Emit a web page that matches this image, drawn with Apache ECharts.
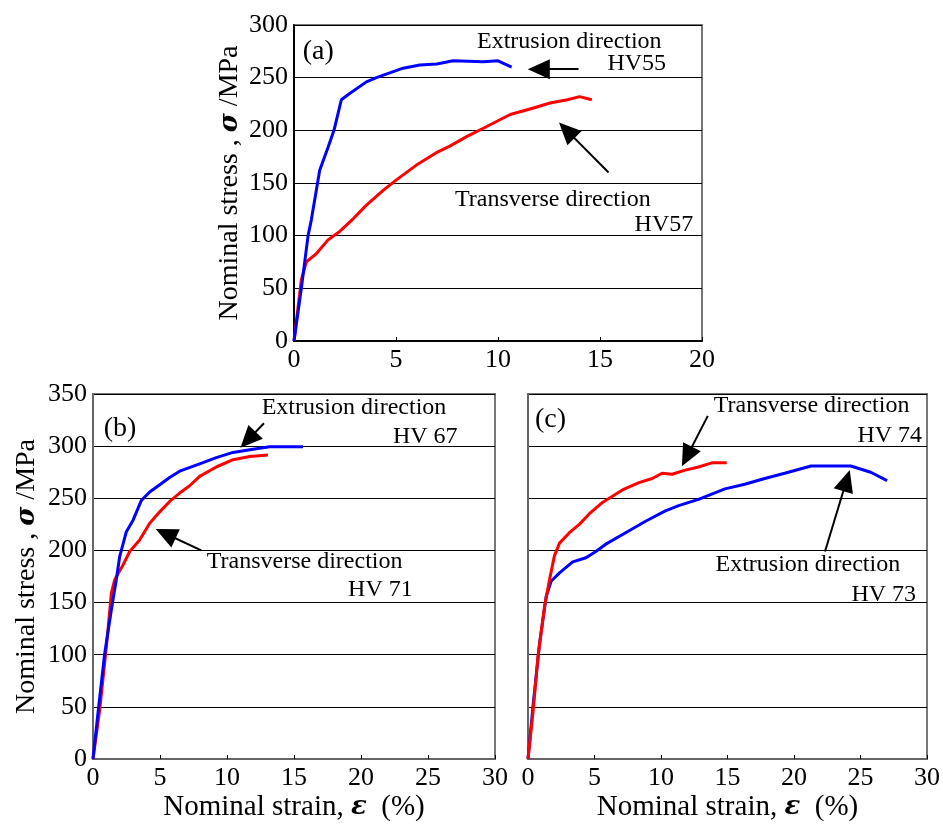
<!DOCTYPE html>
<html>
<head>
<meta charset="utf-8">
<script src="https://cdn.jsdelivr.net/npm/echarts@6/dist/echarts.min.js"></script>
<style>
html,body{margin:0;padding:0;background:#fff;}
#chart{width:943px;height:825px;}
</style>
</head>
<body>
<div id="chart"></div>
<script>
// ---------- DATA ----------
// Panel (a)
const aExtStrain = [0, 0.36, 0.69, 0.85, 1.26, 1.67, 1.96, 2.32, 2.73, 3.55, 4.04, 5.35, 6.17, 7.0, 7.8, 9.28, 10.0, 10.67];
const aExtStress = [0, 50, 100, 115, 162, 184, 200, 229, 235, 246, 250, 259, 262, 263, 266, 265, 266, 260];
const aTrStrain = [0, 0.36, 0.6, 1.1, 1.67, 2.24, 2.9, 3.55, 4.37, 5.02, 6.0, 7.0, 7.64, 8.46, 9.28, 10.6, 11.7, 12.55, 13.4, 14.0, 14.6];
const aTrStress = [0, 58, 75, 83, 96, 104, 116, 129, 143, 153, 167, 179, 185, 194, 202, 215, 221, 226, 229, 232, 229];
// Panel (b)
const bExtStrain = [0, 0.37, 0.87, 1.37, 1.74, 1.99, 2.49, 2.99, 3.61, 4.23, 4.98, 5.72, 6.47, 7.96, 9.2, 10.45, 11.94, 13.18, 15.67];
const bExtStress = [0, 44, 101, 143, 172, 194, 218, 229, 248, 256, 263, 270, 276, 283, 289, 294, 297, 299.5, 299.5];
const bTrStrain = [0, 0.5, 1.0, 1.37, 1.62, 2.24, 2.74, 3.48, 4.23, 4.98, 5.72, 6.47, 7.21, 7.96, 9.2, 10.45, 11.7, 13.06];
const bTrStress = [0, 47, 108, 159, 172, 186, 199, 210, 226, 237, 247, 255, 262, 271, 280, 287, 290, 291.5];
// Panel (c)
const cTrStrain = [0, 0.37, 0.75, 1.24, 1.62, 1.99, 2.37, 3.11, 3.86, 4.6, 5.6, 6.35, 7.1, 8.34, 9.34, 10.08, 10.83, 11.82, 12.82, 13.82, 14.94];
const cTrStress = [0, 44, 98, 146, 172, 195, 207, 217, 225, 235, 246, 252, 258, 265, 269, 274, 273, 277, 280, 284, 284];
const cExtStrain = [0, 0.37, 0.87, 1.37, 1.74, 2.37, 3.36, 4.36, 5.1, 5.85, 7.34, 8.84, 10.33, 11.33, 12.82, 14.81, 16.3, 17.8, 19.3, 21.28, 24.27, 25.77, 27.0];
const cExtStress = [0, 50, 111, 156, 170.5, 178.5, 189, 193, 199, 206, 217, 228, 238, 243, 249, 259, 263.5, 269, 274, 281, 281, 275, 267];

// Axis ranges / ticks
const aXTicks = [0, 5, 10, 15, 20];
const aYTicks = [0, 50, 100, 150, 200, 250, 300];
const bcXTicks = [0, 5, 10, 15, 20, 25, 30];
const bcYTicks = [0, 50, 100, 150, 200, 250, 300, 350];

// Annotation texts (data units) : [text, x, y, side]
const aNotes = [["(a)", 0.43, 275, "r"], ["Extrusion direction", 8.97, 284, "r"], ["HV55", 18.24, 263, "l"], ["Transverse direction", 7.89, 134, "r"], ["HV57", 19.57, 110, "l"]];
const bNotes = [["(b)", 0.8, 317, "r"], ["Extrusion direction", 12.59, 336.5, "r"], ["HV 67", 27.21, 309, "l"], ["Transverse direction", 8.49, 189, "r"], ["HV 71", 23.86, 162, "l"]];
const cNotes = [["(c)", 0.52, 325, "r"], ["Transverse direction", 13.96, 338.5, "r"], ["HV 74", 29.63, 309.6, "l"], ["Extrusion direction", 14.1, 186.5, "r"], ["HV 73", 29.18, 157.7, "l"]];
// Arrows (data units): [tailX, tailY, headX, headY]
const aArrows = [[13.95, 258, 12.0, 258], [15.42, 160, 13.37, 200]];
const bArrows = [[12.76, 322, 11.57, 306], [8.08, 200, 5.42, 216]];
const cArrows = [[13.52, 329, 11.95, 290], [22.33, 199, 23.95, 267]];

// ---------- BUILD ----------
const FONT = "'Liberation Serif', 'Times New Roman', serif";
const zip = (xs, ys) => xs.map((x, i) => [x, ys[i]]);

function notePoints(notes) {
  return notes.map(n => ({
    coord: [n[1], n[2]],
    symbol: 'circle', symbolSize: 0,
    label: {
      show: true, formatter: n[0], position: n[3] === 'r' ? 'right' : 'left', distance: 0,
      color: '#000', fontFamily: FONT, fontSize: n[0].length === 3 ? 28 : 24
    }
  }));
}
function arrowLines(arrs) {
  return arrs.map(a => [
    { coord: [a[0], a[1]], symbol: 'none' },
    { coord: [a[2], a[3]], symbol: 'triangle', symbolSize: [20, 22] }
  ]);
}

const axisLabelStyle = { color: '#000', fontFamily: FONT, fontSize: 26 };
const nameRich = {
  g: { fontFamily: "'DejaVu Serif', serif", fontStyle: 'italic', fontWeight: 'bold', fontSize: 26, color: '#000' }
};

function xAxis(gi, max, ticks, showName) {
  return {
    type: 'value', gridIndex: gi, min: 0, max: max, interval: 5,
    axisLine: { show: true, lineStyle: { color: gi === 0 ? '#000' : '#666', width: 2 } },
    axisTick: { show: true, inside: true, length: 4, lineStyle: { color: '#000' } },
    axisLabel: Object.assign({ margin: 6 }, axisLabelStyle),
    splitLine: { show: false },
    name: showName ? 'Nominal strain, {g|ε}  (%)' : '',
    nameLocation: 'middle', nameGap: 34,
    nameTextStyle: { color: '#000', fontFamily: FONT, fontSize: 29, rich: nameRich }
  };
}
function yAxis(gi, max, showLabels, showName, gap) {
  return {
    type: 'value', gridIndex: gi, min: 0, max: max, interval: 50,
    axisLine: { show: true, lineStyle: { color: gi === 0 ? '#000' : '#666', width: 2 } },
    axisTick: { show: false },
    axisLabel: Object.assign({ show: showLabels, margin: 6 }, axisLabelStyle),
    splitLine: { show: true, lineStyle: { color: '#000', width: 1 } },
    name: showName ? 'Nominal stress , {g|σ} /MPa' : '',
    nameLocation: 'middle', nameGap: gap, nameRotate: 90,
    nameTextStyle: { color: '#000', fontFamily: FONT, fontSize: 28, rich: nameRich }
  };
}

function lineSeries(gi, data, color, notes, arrows) {
  const s = {
    type: 'line', xAxisIndex: gi, yAxisIndex: gi, data: data, showSymbol: false, symbol: 'none',
    lineStyle: { color: color, width: 3 }, itemStyle: { color: color }, z: 3
  };
  if (notes) s.markPoint = { silent: true, data: notePoints(notes), itemStyle: { color: 'transparent' } };
  if (arrows) s.markLine = {
    silent: true, symbol: ['none', 'triangle'], label: { show: false },
    lineStyle: { color: '#000', width: 2, type: 'solid' }, itemStyle: { color: '#000' },
    data: arrowLines(arrows)
  };
  return s;
}

const option = {
  backgroundColor: '#fff',
  animation: false,
  grid: [
    { left: 294, top: 25, width: 408, height: 316, show: true, borderColor: '#777', borderWidth: 2, backgroundColor: 'transparent' },
    { left: 93, top: 394, width: 402, height: 365, show: true, borderColor: '#777', borderWidth: 2, backgroundColor: 'transparent' },
    { left: 528, top: 394, width: 402, height: 365, show: true, borderColor: '#777', borderWidth: 2, backgroundColor: 'transparent' }
  ],
  xAxis: [xAxis(0, aXTicks[aXTicks.length - 1], aXTicks, false), xAxis(1, bcXTicks[bcXTicks.length - 1], bcXTicks, true), xAxis(2, bcXTicks[bcXTicks.length - 1], bcXTicks, true)],
  yAxis: [yAxis(0, aYTicks[aYTicks.length - 1], true, true, 50), yAxis(1, bcYTicks[bcYTicks.length - 1], true, true, 52), yAxis(2, bcYTicks[bcYTicks.length - 1], false, false, 0)],
  series: [
    lineSeries(0, zip(aTrStrain, aTrStress), '#ff0000', null, null),
    lineSeries(0, zip(aExtStrain, aExtStress), '#0000ff', aNotes, aArrows),
    lineSeries(1, zip(bTrStrain, bTrStress), '#ff0000', null, null),
    lineSeries(1, zip(bExtStrain, bExtStress), '#0000ff', bNotes, bArrows),
    lineSeries(2, zip(cExtStrain, cExtStress), '#0000ff', null, null),
    lineSeries(2, zip(cTrStrain, cTrStress), '#ff0000', cNotes, cArrows)
  ]
};
const chart = echarts.init(document.getElementById('chart'), null, { renderer: 'canvas' });
chart.setOption(option);
</script>
</body>
</html>
